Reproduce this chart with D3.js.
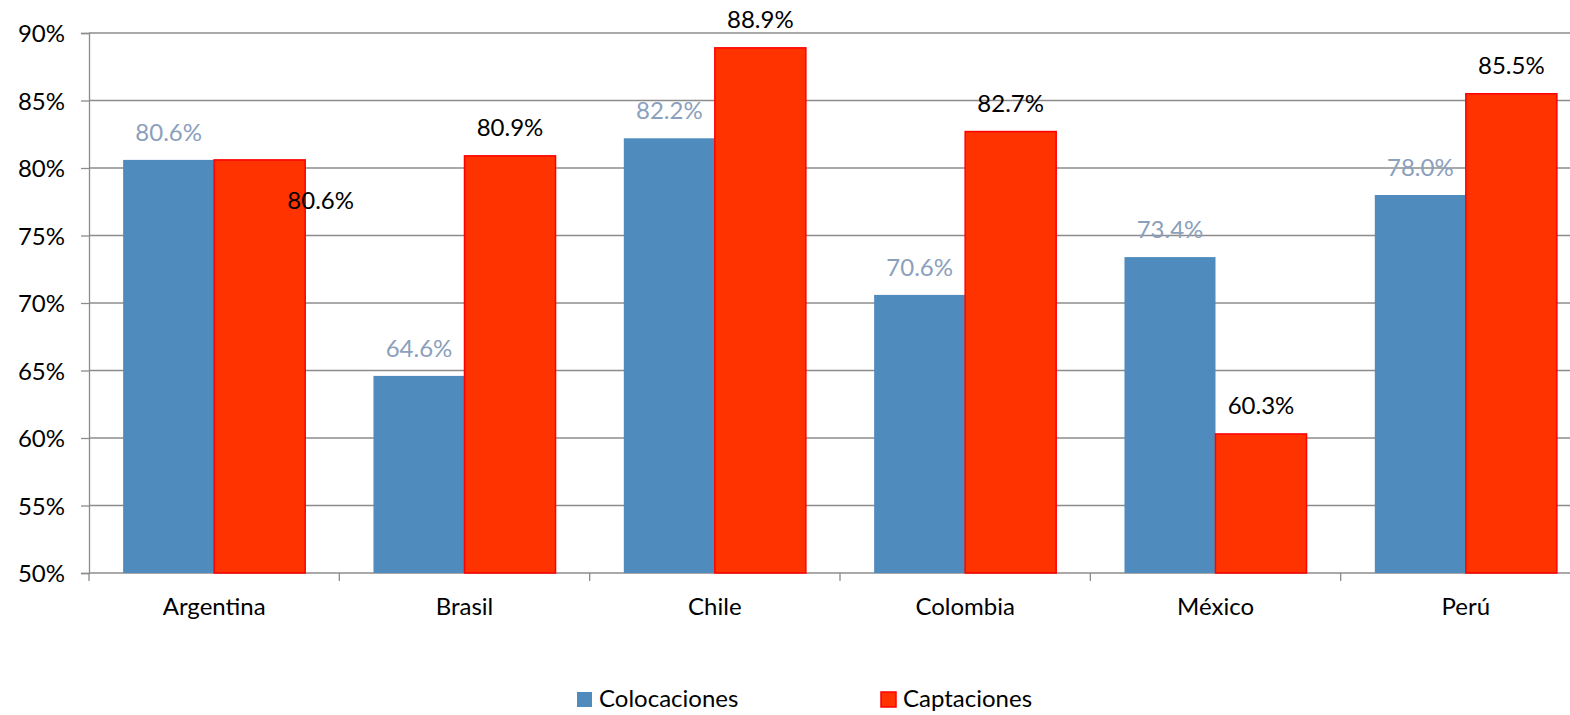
<!DOCTYPE html>
<html>
<head>
<meta charset="utf-8">
<script src="https://cdn.jsdelivr.net/npm/d3@7"></script>
<style>
  body { margin: 0; background: #fff; }
  text { font-family: Lato, "Open Sans", sans-serif; }
</style>
</head>
<body>
<div id="chart"></div>
<script>
// chart data
let countries = ["Argentina", "Brasil", "Chile", "Colombia", "México", "Perú"];
let colocaciones = [80.6, 64.6, 82.2, 70.6, 73.4, 78.0];
let captaciones = [80.6, 80.9, 88.9, 82.7, 60.3, 85.5];
let seriesNames = ["Colocaciones", "Captaciones"];
let yTicks = [50, 55, 60, 65, 70, 75, 80, 85, 90];

let width = 1570, height = 715;
let plotLeft = 89, plotRight = 1591, plotTop = 33, plotBottom = 573;
let fontSize = 24;

let svg = d3.select("#chart").append("svg")
  .attr("width", width)
  .attr("height", height);

let x = d3.scaleBand().domain(countries).range([plotLeft, plotRight]);
let xs = d3.scaleBand().domain(seriesNames).range([0, x.bandwidth()]).paddingOuter(0.375).paddingInner(0);
let y = d3.scaleLinear().domain([50, 90]).range([plotBottom, plotTop]);

// gridlines
svg.append("g")
  .selectAll("line")
  .data(yTicks)
  .enter()
  .append("line")
  .attr("x1", plotLeft).attr("x2", width)
  .attr("y1", d => y(d)).attr("y2", d => y(d))
  .attr("stroke", "#8c8c8c")
  .attr("stroke-width", 1.3);

// y axis
let yAxis = d3.axisLeft(y).tickValues(yTicks).tickSize(8).tickFormat(d => d + "%");
let gy = svg.append("g").attr("transform", "translate(" + plotLeft + ",0)").call(yAxis);
gy.select(".domain").attr("stroke", "#8c8c8c").attr("stroke-width", 1.3);
gy.selectAll(".tick line").attr("stroke", "#8c8c8c").attr("stroke-width", 1.3);
gy.selectAll(".tick text")
  .attr("font-size", fontSize).attr("fill", "#000").attr("x", -24).attr("dy", "0.36em")
  .style("font-family", "Lato, sans-serif");

// x axis ticks at category boundaries
let bounds = countries.map(c => x(c)).concat([plotRight]);
svg.append("g")
  .selectAll("line")
  .data(bounds)
  .enter()
  .append("line")
  .attr("x1", d => d).attr("x2", d => d)
  .attr("y1", plotBottom).attr("y2", plotBottom + 8)
  .attr("stroke", "#8c8c8c")
  .attr("stroke-width", 1.3);

svg.append("g")
  .selectAll("text")
  .data(countries)
  .enter()
  .append("text")
  .attr("x", d => x(d) + x.bandwidth() / 2)
  .attr("y", 615)
  .attr("text-anchor", "middle")
  .attr("font-size", fontSize)
  .text(d => d);

// bars
let rows = countries.map((c, i) => ({ c: c, col: colocaciones[i], cap: captaciones[i] }));

let groups = svg.append("g")
  .selectAll("g")
  .data(rows)
  .enter()
  .append("g")
  .attr("transform", d => "translate(" + x(d.c) + ",0)");

groups.append("rect")
  .attr("x", xs("Colocaciones"))
  .attr("width", xs.bandwidth())
  .attr("y", d => y(d.col))
  .attr("height", d => plotBottom - y(d.col))
  .attr("fill", "#4F8BBD");

groups.append("rect")
  .attr("x", xs("Captaciones"))
  .attr("width", xs.bandwidth())
  .attr("y", d => y(d.cap))
  .attr("height", d => plotBottom - y(d.cap))
  .attr("fill", "#FF3300")
  .attr("stroke", "#FF0000")
  .attr("stroke-width", 1.5);

// data labels
groups.append("text")
  .attr("x", xs("Colocaciones") + xs.bandwidth() / 2)
  .attr("y", d => y(d.col) - 19)
  .attr("text-anchor", "middle")
  .attr("font-size", fontSize)
  .attr("fill", "#8BA0BC")
  .text(d => d.col.toFixed(1) + "%");

// when both values match the labels would overlap, so the red one moves aside
groups.append("text")
  .attr("x", d => xs("Captaciones") + xs.bandwidth() / 2 + (d.col === d.cap ? 61 : 0))
  .attr("y", d => d.col === d.cap ? y(d.cap) + 49 : y(d.cap) - 20)
  .attr("text-anchor", "middle")
  .attr("font-size", fontSize)
  .attr("fill", "#000")
  .text(d => d.cap.toFixed(1) + "%");

// legend
let legend = svg.append("g");
let legendX = [577, 881];
let legendColors = ["#4F8BBD", "#FF3300"];
seriesNames.forEach(function(name, i) {
  legend.append("rect")
    .attr("x", legendX[i]).attr("y", 692)
    .attr("width", 15).attr("height", 15)
    .attr("fill", legendColors[i])
    .attr("stroke", i === 1 ? "#FF0000" : "none")
    .attr("stroke-width", 1.5);
  legend.append("text")
    .attr("x", legendX[i] + 22).attr("y", 707)
    .attr("font-size", fontSize)
    .text(name);
});
</script>
</body>
</html>
